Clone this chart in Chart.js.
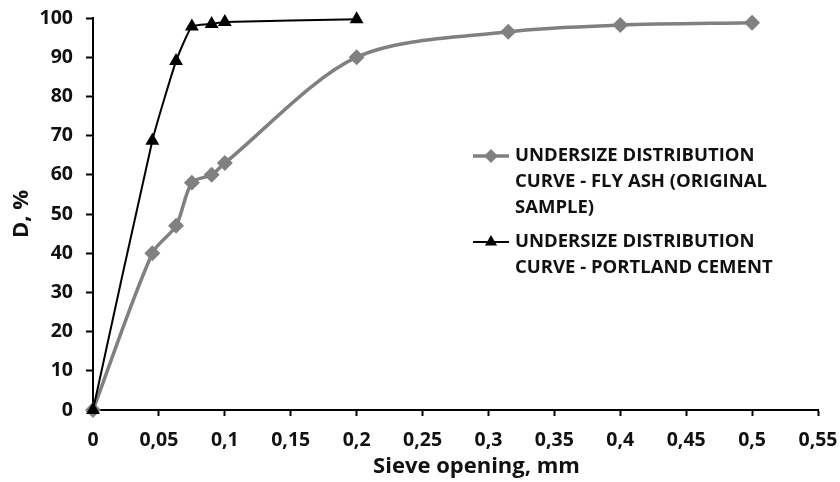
<!DOCTYPE html>
<html>
<head>
<meta charset="utf-8">
<title>Undersize distribution curves</title>
<script src="https://cdn.jsdelivr.net/npm/chart.js@4.4.1/dist/chart.umd.min.js"></script>
<style>
  html, body { margin: 0; padding: 0; background: #fff; }
  #wrap { position: relative; width: 840px; height: 482px; }
  canvas { display: block; }
</style>
</head>
<body>
<div id="wrap"><canvas id="sieveChart" width="840" height="482"></canvas></div>
<script>
// sieve opening (mm) vs. undersize D (%)
const flyAshOpening = [0, 0.045, 0.063, 0.075, 0.09, 0.1, 0.2, 0.315, 0.4, 0.5];
const flyAshUndersize = [0, 40, 47, 58, 60, 63, 90, 96.5, 98.2, 98.8];
const cementOpening = [0, 0.045, 0.063, 0.075, 0.09, 0.1, 0.2];
const cementUndersize = [0, 68.7, 89, 97.8, 98.5, 99, 99.7];

const xTickLabels = ['0', '0,05', '0,1', '0,15', '0,2', '0,25', '0,3', '0,35', '0,4', '0,45', '0,5', '0,55'];
const yTickLabels = ['0', '10', '20', '30', '40', '50', '60', '70', '80', '90', '100'];

const legendLines = [
    ['UNDERSIZE DISTRIBUTION', 'CURVE - FLY ASH (ORIGINAL', 'SAMPLE)'],
    ['UNDERSIZE DISTRIBUTION', 'CURVE - PORTLAND CEMENT']
];

const FONT = '"Open Sans", Lato, sans-serif';
const GREY = '#808080';
const X_STEP = 0.05;
const Y_STEP = 10;

function toPoints(xs, ys) {
    return xs.map((x, i) => ({ x: x, y: ys[i] }));
}

// axis titles and the wrapped legend are drawn by hand
const annotations = {
    id: 'annotations',
    afterDraw(chart) {
        const ctx = chart.ctx;
        const area = chart.chartArea;
        ctx.save();
        ctx.fillStyle = '#111';
        ctx.font = 'bold 22px ' + FONT;
        ctx.textAlign = 'center';
        ctx.textBaseline = 'middle';
        ctx.fillText('Sieve opening, mm', (area.left + area.right) / 2 + 21, 467);

        ctx.translate(22, (area.top + area.bottom) / 2);
        ctx.rotate(-Math.PI / 2);
        ctx.fillText('D, %', 0, 0);
        ctx.restore();

        // legend
        ctx.save();
        const lx = 473, tx = 515;
        const rows = [156, 242];
        chart.data.datasets.forEach((ds, i) => {
            const y = rows[i];
            ctx.strokeStyle = ds.borderColor;
            ctx.lineWidth = ds.borderWidth;
            ctx.beginPath();
            ctx.moveTo(lx, y);
            ctx.lineTo(lx + 36, y);
            ctx.stroke();
            ctx.fillStyle = ds.pointBackgroundColor;
            ctx.strokeStyle = ds.pointBorderColor;
            Chart.helpers.drawPoint(ctx, {
                pointStyle: ds.pointStyle,
                radius: ds.pointRadius - 1,
                rotation: 0,
                borderWidth: 1
            }, lx + 18, y);

            ctx.fillStyle = '#111';
            ctx.font = 'bold 18.5px ' + FONT;
            ctx.textAlign = 'left';
            ctx.textBaseline = 'middle';
            legendLines[i].forEach((line, j) => {
                ctx.fillText(line, tx, y + j * 26);
            });
        });
        ctx.restore();
    }
};

const chart = new Chart(document.getElementById('sieveChart'), {
    type: 'line',
    data: {
        datasets: [{
            label: legendLines[0].join(' '),
            data: toPoints(flyAshOpening, flyAshUndersize),
            borderColor: GREY,
            borderWidth: 3.5,
            tension: 0.3,
            pointStyle: 'rectRot',
            pointRadius: 5.5,
            pointBackgroundColor: GREY,
            pointBorderColor: GREY,
            clip: false,
            order: 1
        }, {
            label: legendLines[1].join(' '),
            data: toPoints(cementOpening, cementUndersize),
            borderColor: '#000',
            borderWidth: 2,
            tension: 0.15,
            pointStyle: 'triangle',
            pointRadius: 6,
            pointBackgroundColor: '#000',
            pointBorderColor: '#000',
            clip: false,
            order: 0
        }]
    },
    options: {
        responsive: false,
        animation: false,
        layout: { padding: { top: 18, right: 22, left: 0, bottom: 0 } },
        plugins: {
            legend: { display: false },
            tooltip: { enabled: false }
        },
        scales: {
            x: {
                type: 'linear',
                min: 0,
                max: 0.55,
                afterFit(scale) {
                    scale.height = 72;
                    scale.paddingLeft = 0;
                    scale.paddingRight = 0;
                },
                ticks: {
                    stepSize: X_STEP,
                    autoSkip: false,
                    maxRotation: 0,
                    minRotation: 0,
                    color: '#111',
                    padding: 13,
                    font: { family: FONT, size: 19.5, weight: 'bold' },
                    callback: (value) => xTickLabels[Math.round(value / X_STEP)]
                },
                grid: {
                    drawOnChartArea: false,
                    drawTicks: true,
                    tickLength: 6,
                    tickColor: '#000',
                    tickWidth: 2
                },
                border: { color: '#000', width: 2 }
            },
            y: {
                min: 0,
                max: 100,
                afterFit(scale) {
                    scale.width = 93;
                    scale.paddingTop = 0;
                    scale.paddingBottom = 0;
                },
                ticks: {
                    stepSize: Y_STEP,
                    autoSkip: false,
                    color: '#111',
                    padding: 13,
                    font: { family: FONT, size: 19.5, weight: 'bold' },
                    callback: (value) => yTickLabels[Math.round(value / Y_STEP)]
                },
                grid: {
                    drawOnChartArea: false,
                    drawTicks: true,
                    tickLength: 7,
                    tickColor: '#000',
                    tickWidth: 2
                },
                border: { color: '#000', width: 2 }
            }
        }
    },
    plugins: [annotations]
});
</script>
</body>
</html>
